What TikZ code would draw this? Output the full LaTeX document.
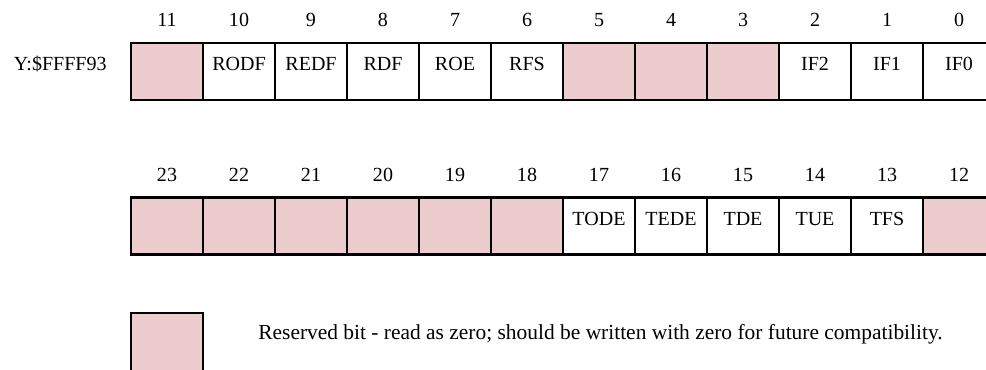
\documentclass[tikz,border=0pt]{standalone}
\usepackage{fontspec}
\setmainfont{Liberation Serif}
\usepackage{tikz}
\definecolor{resvpink}{RGB}{236,204,204}
\tikzset{
  bitcell/.style={draw=black, line width=1.2pt, fill=white, inner sep=0pt,
    minimum width=1.44cm, minimum height=1.14cm,
    text height=0.55cm, text depth=0.59cm},
  reservedbit/.style={bitcell, fill=resvpink},
  bitnum/.style={inner sep=0pt, anchor=base}
}

\begin{document}
\begin{tikzpicture}[x=0.02cm, y=-0.02cm, every node/.style={font=\fontsize{11.4pt}{13pt}\selectfont}]
  \useasboundingbox (0,0) rectangle (986,369);

  % low word Y:$FFFF93, bits 11..0
  \foreach \bit/\name/\kind [count=\k from 0] in {11//reservedbit, 10/RODF/bitcell, 9/REDF/bitcell,
      8/RDF/bitcell, 7/ROE/bitcell, 6/RFS/bitcell, 5//reservedbit, 4//reservedbit, 3//reservedbit,
      2/IF2/bitcell, 1/IF1/bitcell, 0/IF0/bitcell}
  {
    \node[\kind] (b\bit) at ({167+72*\k},71.5) {\name};
    \node[bitnum] (n\bit) at ([yshift=0.3cm]b\bit.north) {\bit};
  }

  % high bits 23..12
  \foreach \bit/\name/\kind [count=\k from 0] in {23//reservedbit, 22//reservedbit, 21//reservedbit,
      20//reservedbit, 19//reservedbit, 18//reservedbit, 17/TODE/bitcell, 16/TEDE/bitcell,
      15/TDE/bitcell, 14/TUE/bitcell, 13/TFS/bitcell, 12//reservedbit}
  {
    \node[\kind] (b\bit) at ({167+72*\k},226) {\name};
    \node[bitnum] (n\bit) at ([yshift=0.3cm]b\bit.north) {\bit};
  }

  \node[anchor=base east, inner sep=0pt] (reg) at ([xshift=-0.46cm]b11.base west) {Y:\$FFFF93};

  % legend
  \node[reservedbit, minimum height=1.3cm] (key) at (167,345.5) {};
  \node[anchor=base west, inner sep=0pt, font=\fontsize{12.2pt}{14pt}\selectfont] (keytext) at (258,339)
    {Reserved bit - read as zero; should be written with zero for future compatibility.};
\end{tikzpicture}
\end{document}
